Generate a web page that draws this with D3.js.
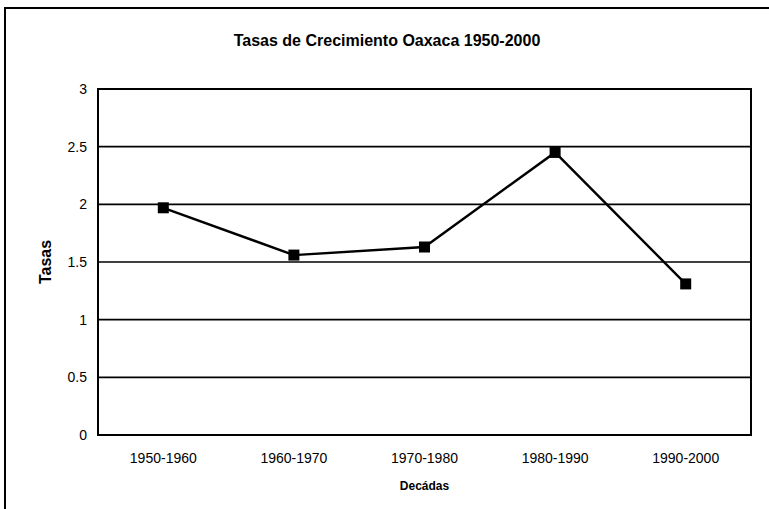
<!DOCTYPE html>
<html>
<head>
<meta charset="utf-8">
<script src="https://cdn.jsdelivr.net/npm/d3@7"></script>
<style>
  body { margin: 0; background: #fff; }
  text { font-family: "Liberation Sans", Arial, sans-serif; fill: #000; }
</style>
</head>
<body>
<div id="chart"></div>
<script>
// data
var decadas = ["1950-1960", "1960-1970", "1970-1980", "1980-1990", "1990-2000"];
var tasas = [1.97, 1.56, 1.63, 2.45, 1.31];
var yTicks = [0, 0.5, 1, 1.5, 2, 2.5, 3];

var W = 769, H = 509;
var plot = { left: 98, top: 89, right: 751, bottom: 435 };

var svg = d3.select("#chart").append("svg")
    .attr("width", W)
    .attr("height", H);

// outer chart frame (bottom/right run off the picture)
svg.append("path")
    .attr("d", "M5," + H + " L5,8 L" + W + ",8")
    .attr("fill", "none")
    .attr("stroke", "#000")
    .attr("stroke-width", 2);

var x = d3.scaleBand()
    .domain(decadas)
    .range([plot.left, plot.right]);

var y = d3.scaleLinear()
    .domain([0, 3])
    .range([plot.bottom, plot.top]);

// gridlines
svg.append("g").selectAll("line")
    .data(yTicks)
  .enter().append("line")
    .attr("x1", plot.left)
    .attr("x2", plot.right)
    .attr("y1", function(d) { return y(d); })
    .attr("y2", function(d) { return y(d); })
    .attr("stroke", "#000")
    .attr("stroke-width", 1.6);

// plot frame sides
svg.append("rect")
    .attr("x", plot.left)
    .attr("y", plot.top)
    .attr("width", plot.right - plot.left)
    .attr("height", plot.bottom - plot.top)
    .attr("fill", "none")
    .attr("stroke", "#000")
    .attr("stroke-width", 2);

// y axis labels
var yAxis = d3.axisLeft(y).tickValues(yTicks).tickSize(0).tickPadding(11)
    .tickFormat(function(d) { return String(d); });
var gy = svg.append("g")
    .attr("transform", "translate(" + plot.left + ",0)")
    .call(yAxis);
gy.select(".domain").remove();
gy.selectAll("text")
    .style("font-size", "14px")
    .style("font-family", "'Liberation Sans', Arial, sans-serif");

// x axis labels
var xAxis = d3.axisBottom(x).tickSize(0).tickPadding(18);
var gx = svg.append("g")
    .attr("transform", "translate(0," + plot.bottom + ")")
    .call(xAxis);
gx.select(".domain").remove();
gx.selectAll("text")
    .style("font-size", "14px")
    .style("font-family", "'Liberation Sans', Arial, sans-serif");

// line + markers
var pts = decadas.map(function(d, i) { return [x(d) + x.bandwidth() / 2, y(tasas[i])]; });

svg.append("path")
    .datum(pts)
    .attr("d", d3.line())
    .attr("fill", "none")
    .attr("stroke", "#000")
    .attr("stroke-width", 2.4);

var ms = 11;
svg.append("g").selectAll("rect")
    .data(pts)
  .enter().append("rect")
    .attr("x", function(d) { return d[0] - ms / 2; })
    .attr("y", function(d) { return d[1] - ms / 2; })
    .attr("width", ms)
    .attr("height", ms)
    .attr("fill", "#000");

// titles: chart title centred on the chart area, axis title on the plot
svg.append("text")
    .attr("x", (5 + W) / 2)
    .attr("y", 46)
    .attr("text-anchor", "middle")
    .style("font-size", "16px")
    .style("font-weight", "bold")
    .text("Tasas de Crecimiento Oaxaca 1950-2000");

svg.append("text")
    .attr("x", (plot.left + plot.right) / 2)
    .attr("y", 490)
    .attr("text-anchor", "middle")
    .style("font-size", "12px")
    .style("font-weight", "bold")
    .text("Decádas");

svg.append("text")
    .attr("transform", "translate(51," + ((plot.top + plot.bottom) / 2) + ") rotate(-90)")
    .attr("text-anchor", "middle")
    .style("font-size", "16px")
    .style("font-weight", "bold")
    .text("Tasas");
</script>
</body>
</html>
